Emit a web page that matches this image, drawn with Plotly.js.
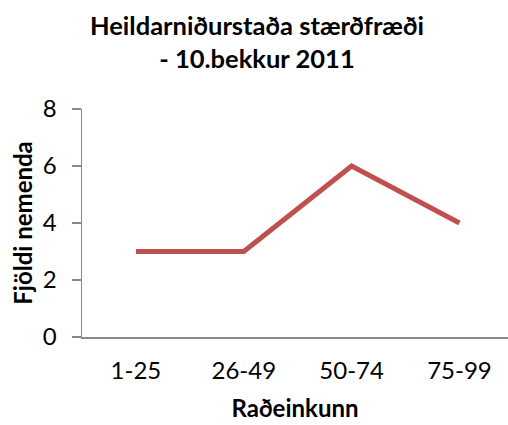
<!DOCTYPE html>
<html>
<head>
<meta charset="utf-8">
<script src="https://cdn.plot.ly/plotly-3.0.1.min.js"></script>
<style>html,body{margin:0;padding:0;background:#fff;}#chart{width:508px;height:425px;}</style>
</head>
<body>
<div id="chart"></div>
<script>
const categories = ["1-25", "26-49", "50-74", "75-99"];
const values = [3, 3, 6, 4];
const yTicks = [0, 2, 4, 6, 8];

const FONT = "Lato, 'Open Sans', sans-serif";

const trace = {
  x: [0, 1, 2, 3],
  y: values,
  type: "scatter",
  mode: "lines",
  line: {color: "#C0504D", width: 5},
  hoverinfo: "skip"
};

const layout = {
  width: 508,
  height: 425,
  margin: {l: 82, r: 0, t: 109, b: 88},
  paper_bgcolor: "#ffffff",
  plot_bgcolor: "#ffffff",
  showlegend: false,
  font: {family: FONT, color: "#000000"},
  annotations: [{
    text: "<b>Heildarniðurstaða stærðfræði<br>- 10.bekkur 2011</b>",
    font: {family: FONT, size: 25.5, color: "#000000"},
    xref: "paper", yref: "paper",
    x: 0.411, xanchor: "center",
    y: 1.445, yanchor: "top",
    showarrow: false,
    align: "center"
  }],
  xaxis: {
    range: [-0.5, 3.45],
    tickmode: "array",
    tickvals: [0, 1, 2, 3],
    ticktext: categories,
    showgrid: false,
    zeroline: false,
    showline: true,
    linecolor: "#888888",
    linewidth: 1.5,
    ticks: "",
    ticklabelstandoff: 12,
    tickfont: {family: FONT, size: 24, color: "#000000"},
    title: {text: "<b>Raðeinkunn</b>", font: {family: FONT, size: 24, color: "#000000"}, standoff: 17},
    fixedrange: true
  },
  yaxis: {
    range: [0, 8],
    tickmode: "array",
    tickvals: yTicks,
    ticktext: yTicks.map(String),
    showgrid: false,
    zeroline: false,
    showline: true,
    linecolor: "#888888",
    linewidth: 1.5,
    ticks: "outside",
    ticklen: 9,
    tickwidth: 1.5,
    tickcolor: "#888888",
    ticklabelstandoff: 10,
    tickfont: {family: FONT, size: 24, color: "#000000"},
    title: {text: "<b>Fjöldi nemenda</b>", font: {family: FONT, size: 24, color: "#000000"}, standoff: 3},
    fixedrange: true
  }
};

Plotly.newPlot("chart", [trace], layout, {displayModeBar: false, staticPlot: true});
</script>
</body>
</html>
